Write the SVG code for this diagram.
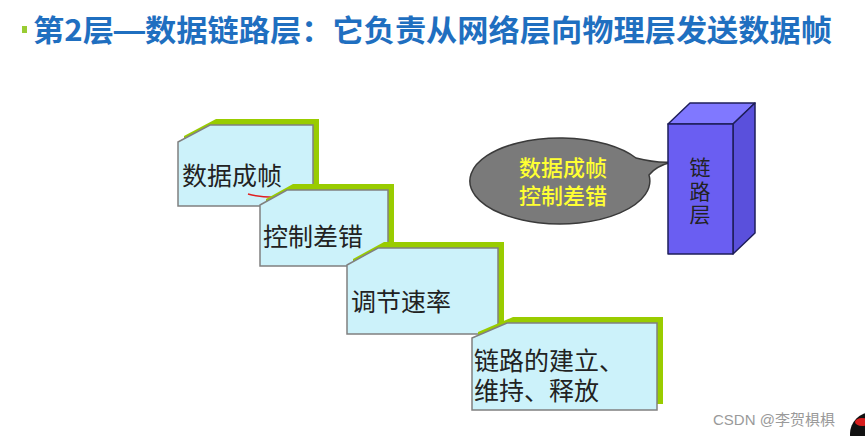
<svg xmlns="http://www.w3.org/2000/svg" width="865" height="436" viewBox="0 0 865 436">
<style>
.cjk{font-family:"Noto Sans CJK SC","Noto Sans",sans-serif}
.title{font-size:30px;font-weight:bold;fill:#1f6fc0}
.shadow{fill:#99cc00}
.card{fill:#ccf2fa;stroke:#808080;stroke-width:1.5}
.lbl{font-size:25px;fill:#222}
.bub{font-size:22px;fill:#ffff33;font-weight:500}
.blk{stroke:#1e1e5a;stroke-width:1.5;stroke-linejoin:round}
.vt{font-size:21px;fill:#222}
.wm{font-family:"Liberation Sans","Noto Sans CJK SC",sans-serif;font-size:15px;fill:#9a9a9a}
</style>
<rect width="865" height="436" fill="#ffffff"/>
<g id="title">
<rect x="22" y="26" width="5" height="7" fill="#99cc33"/>
<text class="cjk title" x="33" y="41" textLength="799" lengthAdjust="spacingAndGlyphs">第2层<tspan font-family="Liberation Sans">—</tspan>数据链路层：它负责从网络层向物理层发送数据帧</text>
</g>
<g id="step1">
<path class="shadow" d="M184,136 L216,119 L319,119 L319,199 L184,199 Z"/>
<path class="card" d="M178,142 L210,125 L313,125 L313,206 L178,206 Z"/>
<text class="cjk lbl" x="182" y="185">数据成帧</text>
<path d="M248,194 Q262,198 282,197" fill="none" stroke="#e02020" stroke-width="1.5"/>
</g>
<g id="step2">
<path class="shadow" d="M266,199 L293,184 L394,184 L394,260 L266,260 Z"/>
<path class="card" d="M260,205 L287,190 L388,190 L388,266 L260,266 Z"/>
<text class="cjk lbl" x="263" y="246">控制差错</text>
</g>
<g id="step3">
<path class="shadow" d="M353,259 L384,242 L504,242 L504,328 L353,328 Z"/>
<path class="card" d="M347,265 L378,248 L498,248 L498,334 L347,334 Z"/>
<text class="cjk lbl" x="351" y="311">调节速率</text>
</g>
<g id="step4">
<path class="shadow" d="M478,332 L513,317 L663,317 L663,404 L478,404 Z"/>
<path class="card" d="M472,338 L507,323 L657,323 L657,410 L472,410 Z"/>
<text class="cjk lbl"><tspan x="474" y="370">链路的建立、</tspan><tspan x="474" y="400">维持、释放</tspan></text>
</g>
<g id="bubble">
<path d="M636,158 Q655,163 672,162 Q656,166 649,175 A90,43 0 1 1 636,158 Z" fill="#7a7a7a" stroke="#3a3a3a" stroke-width="1.5"/>
<text class="cjk bub" text-anchor="middle"><tspan x="563" y="176">数据成帧</tspan><tspan x="563" y="204">控制差错</tspan></text>
</g>
<g id="block">
<polygon class="blk" points="668,124 690,103 755,103 733,124" fill="#8078ff"/>
<polygon class="blk" points="733,124 755,103 755,233 733,254" fill="#5a50dc"/>
<rect class="blk" x="668" y="124" width="65" height="130" fill="#6a5ef2"/>
<text class="cjk vt" text-anchor="middle"><tspan x="700" y="175">链</tspan><tspan x="700" y="199">路</tspan><tspan x="700" y="222">层</tspan></text>
</g>
<g id="watermark">
<text class="wm" x="713" y="425">CSDN @李贺椇椇</text>
<circle cx="872" cy="434" r="22" fill="#111"/>
<ellipse cx="862" cy="422" rx="7" ry="4" fill="#d81e1e"/>
</g>
</svg>
